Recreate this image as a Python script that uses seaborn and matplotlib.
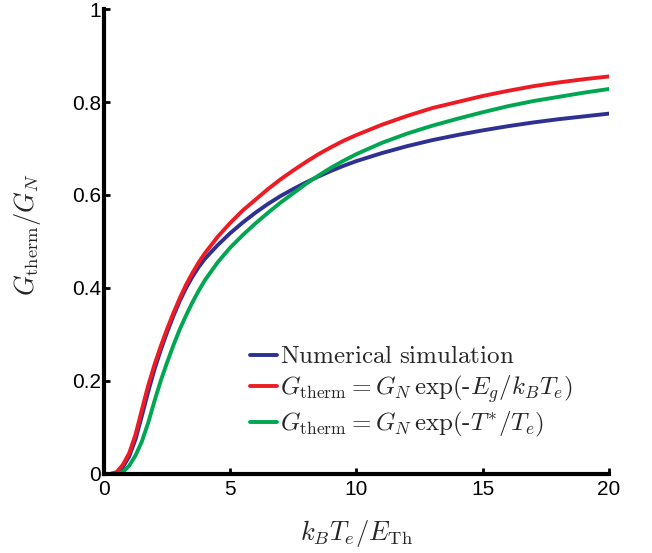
import matplotlib
matplotlib.use("Agg")
import matplotlib.pyplot as plt
import pandas as pd
import seaborn as sns

# values
x_vals = [0, 0.25, 0.5, 0.75, 1, 1.25, 1.5, 1.75, 2, 2.25, 2.5, 2.75, 3, 3.25, 3.5,
          3.75, 4, 4.5, 5, 5.5, 6, 6.5, 7, 7.5, 8, 8.5, 9, 9.5, 10,
          11, 12, 13, 14, 15, 16, 17, 18, 19, 20]
numerical = [0, 0, 0.002, 0.015, 0.038, 0.075, 0.125, 0.177, 0.225, 0.267, 0.305,
             0.34, 0.372, 0.40, 0.424, 0.445, 0.463, 0.492, 0.518, 0.541, 0.562,
             0.581, 0.598, 0.613, 0.627, 0.64, 0.652, 0.663, 0.673,
             0.69, 0.705, 0.718, 0.729, 0.739, 0.748, 0.756, 0.763, 0.769, 0.775]
gap_fit = [0, 0, 0.004, 0.02, 0.045, 0.085, 0.138, 0.19, 0.235, 0.275, 0.312,
           0.346, 0.378, 0.407, 0.432, 0.455, 0.475, 0.51, 0.54, 0.567, 0.59,
           0.613, 0.634, 0.653, 0.671, 0.688, 0.703, 0.717, 0.729,
           0.751, 0.770, 0.787, 0.800, 0.813, 0.824, 0.834, 0.842, 0.849, 0.855]
tstar_fit = [0, 0, 0, 0.004, 0.018, 0.04, 0.07, 0.11, 0.157, 0.201, 0.24,
             0.277, 0.311, 0.341, 0.369, 0.394, 0.417, 0.455, 0.487, 0.514, 0.539,
             0.562, 0.584, 0.604, 0.624, 0.642, 0.659, 0.674, 0.688,
             0.712, 0.732, 0.749, 0.764, 0.778, 0.791, 0.802, 0.811, 0.82, 0.828]

series_names = ["num", "gap", "tstar"]
legend_labels = [r"$\mathrm{Numerical\ simulation}$",
                 r"$G_{\rm therm} = G_N\,\mathrm{exp}(\text{-}E_g/k_BT_e)$",
                 r"$G_{\rm therm} = G_N\,\mathrm{exp}(\text{-}T^{*}/T_e)$"]
colors = ["#2E3192", "#ED1C24", "#00A651"]
x_ticks = [0, 5, 10, 15, 20]
y_ticks = [0, 0.2, 0.4, 0.6, 0.8, 1]
y_ticklabels = ["0", "0.2", "0.4", "0.6", "0.8", "1"]

df = pd.DataFrame({
    "x": x_vals * 3,
    "y": numerical + gap_fit + tstar_fit,
    "series": sum([[s] * len(x_vals) for s in series_names], []),
})

sns.set_theme(style="white")
plt.rcParams["font.family"] = ["Liberation Sans", "DejaVu Sans"]
plt.rcParams["mathtext.fontset"] = "cm"

fig = plt.figure(figsize=(6.52, 5.53), dpi=100)
ax = fig.add_axes([0.1595, 0.1429, 0.7745, 0.8408])

sns.lineplot(data=df, x="x", y="y", hue="series", hue_order=series_names,
             palette=colors, linewidth=2.8, ax=ax, legend=False)
for line in ax.lines:
    line.set_solid_joinstyle("round")

ax.set_xlim(0, 20)
ax.set_ylim(0, 1)
ax.set_xticks(x_ticks)
ax.set_xticklabels([str(t) for t in x_ticks])
ax.set_yticks(y_ticks)
ax.set_yticklabels(y_ticklabels)
ax.tick_params(direction="in", length=4, width=2, labelsize=15, colors="black",
               left=True, bottom=True)
ax.tick_params(axis="x", pad=4)
ax.tick_params(axis="y", pad=2)

for side in ["top", "right"]:
    ax.spines[side].set_visible(False)
for side in ["left", "bottom"]:
    ax.spines[side].set_linewidth(3)
    ax.spines[side].set_color("black")

ax.set_xlabel(r"$k_BT_e/E_{\rm Th}$", fontsize=19, labelpad=14)
ax.set_ylabel(r"$G_{\rm therm}/G_N$", fontsize=19)
ax.yaxis.set_label_coords(-0.121, 0.515)

handles = [plt.Line2D([], [], color=c, linewidth=2.8) for c in colors]
ax.legend(handles, legend_labels, loc="lower left", bbox_to_anchor=(0.29, 0.075),
          frameon=False, fontsize=18, handlelength=1.05, handletextpad=0.12,
          labelspacing=0.2, borderpad=0, borderaxespad=0)

fig.savefig("out.png", dpi=100)
